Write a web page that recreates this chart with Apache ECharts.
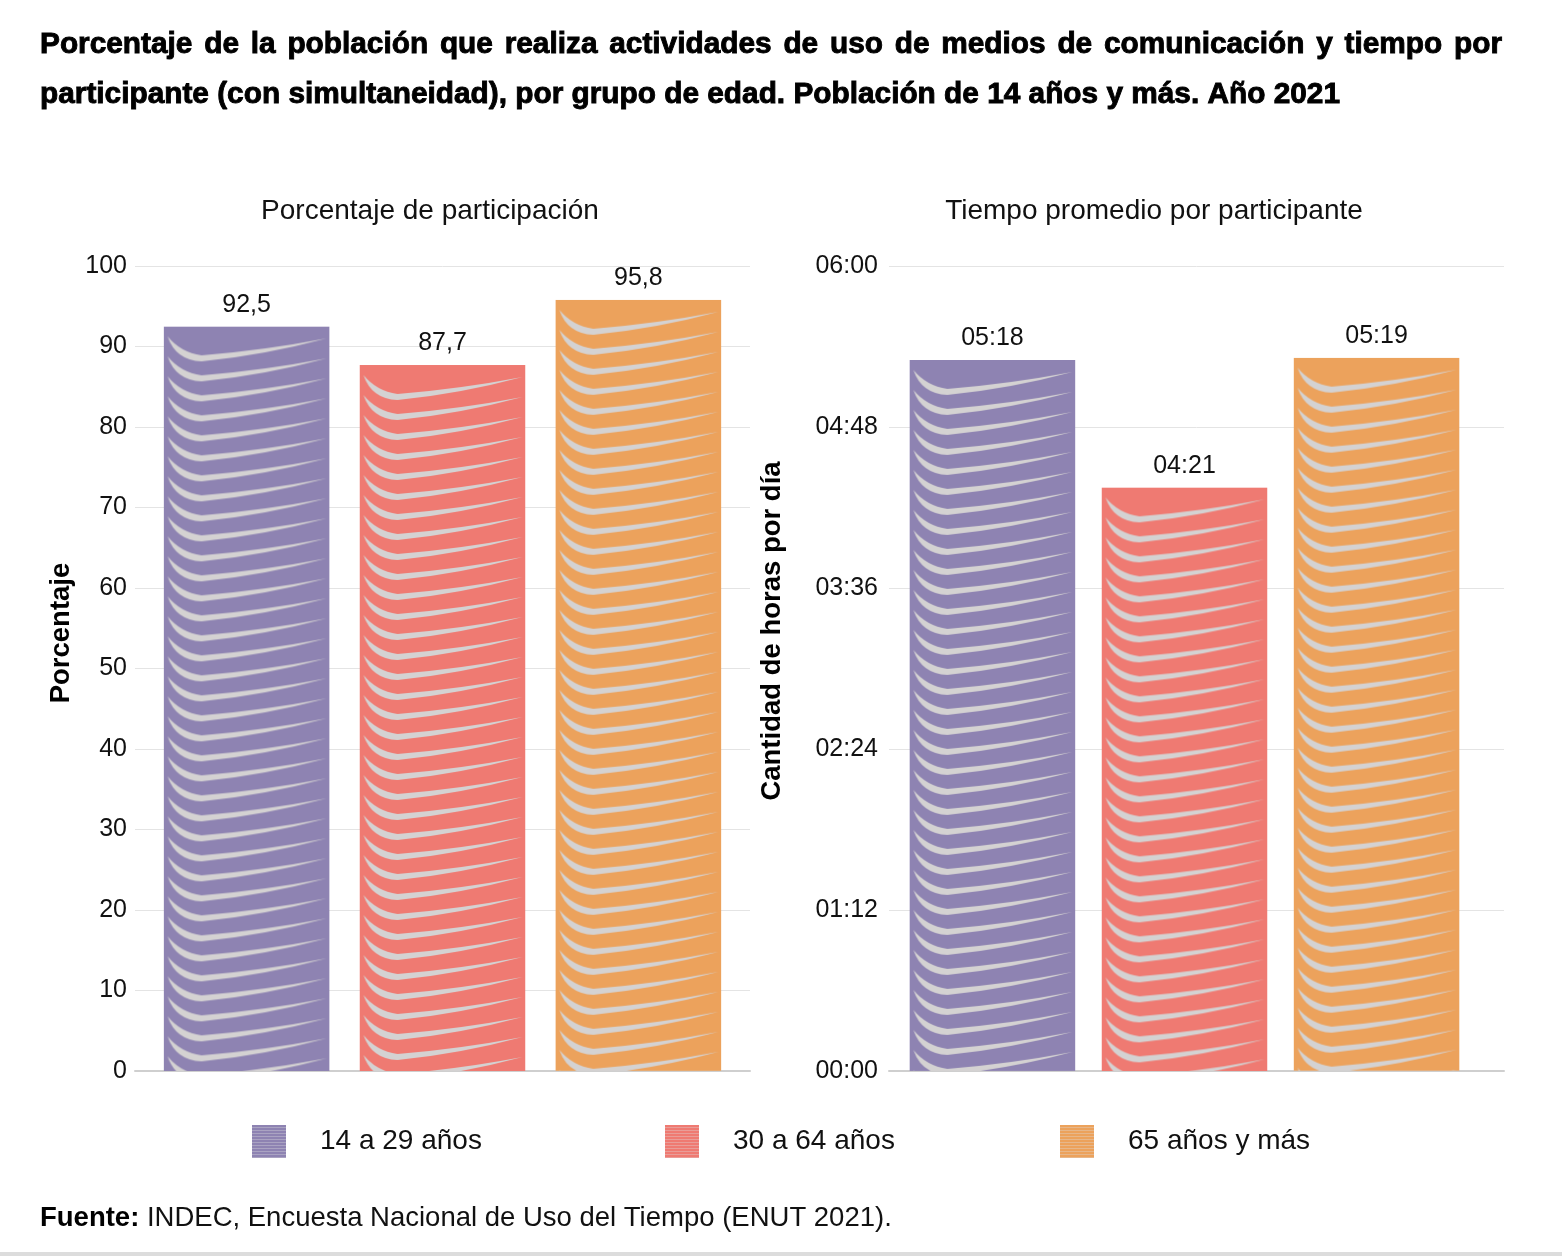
<!DOCTYPE html>
<html><head><meta charset="utf-8">
<script src="https://cdn.jsdelivr.net/npm/echarts@6.0.0/dist/echarts.min.js"></script>
<style>html,body{margin:0;padding:0;background:#fff}#c{width:1562px;height:1256px}</style>
</head><body><div id="c"></div>
<script>
// ---------- data ----------
const groups = ['14 a 29 años', '30 a 64 años', '65 años y más'];
const pctValues = [92.5, 87.7, 95.8];
const timeValues = ['05:18', '04:21', '05:19'];        // hh:mm per participant
const pctAxis = { min: 0, max: 100, interval: 10 };
const timeAxisTicks = ['00:00', '01:12', '02:24', '03:36', '04:48', '06:00'];
const titleLine1 = 'Porcentaje de la población que realiza actividades de uso de medios de comunicación y tiempo por';
const titleLine2 = 'participante (con simultaneidad), por grupo de edad. Población de 14 años y más. Año 2021';
const subtitleLeft = 'Porcentaje de participación';
const subtitleRight = 'Tiempo promedio por participante';
const yNameLeft = 'Porcentaje';
const yNameRight = 'Cantidad de horas por día';
const sourceBold = 'Fuente:';
const sourceText = ' INDEC, Encuesta Nacional de Uso del Tiempo (ENUT 2021).';

// ---------- helpers ----------
const colors = ['#8e83b2', '#ef7a72', '#eca25c'];
const swooshColor = '#d4d2d2';
const toMin = s => { const [h, m] = s.split(':').map(Number); return h * 60 + m; };
const toHHMM = v => { const h = Math.floor(v / 60), m = Math.round(v % 60); return String(h).padStart(2, '0') + ':' + String(m).padStart(2, '0'); };
const timeMinutes = timeValues.map(toMin);
const timeMax = toMin(timeAxisTicks[timeAxisTicks.length - 1]);
const timeInterval = toMin(timeAxisTicks[1]) - toMin(timeAxisTicks[0]);

// full-bar fill image: swooshes every 20px starting from the bar top
function makeBarFill(color, w, h) {
  const c = document.createElement('canvas');
  c.width = Math.max(4, Math.round(w)); c.height = Math.max(4, Math.round(h));
  const g = c.getContext('2d');
  g.fillStyle = color; g.fillRect(0, 0, c.width, c.height);
  g.fillStyle = swooshColor;
  const W = c.width;
  for (let y0 = 10; y0 < c.height; y0 += 20) {
    g.beginPath();
    g.moveTo(4, y0);
    g.quadraticCurveTo(17, y0 + 16, 38, y0 + 19);
    g.quadraticCurveTo(100, y0 + 14, W - 3, y0 + 2);
    g.quadraticCurveTo(100, y0 + 19, 38, y0 + 25);
    g.quadraticCurveTo(12, y0 + 24, 4, y0);
    g.fill();
  }
  return c;
}
function stripePattern(color) {
  const c = document.createElement('canvas'); c.width = 4; c.height = 3;
  const g = c.getContext('2d');
  g.fillStyle = color; g.fillRect(0, 0, 4, 3);
  g.globalAlpha = 0.35; g.fillStyle = '#e0e0e0'; g.fillRect(0, 2, 4, 1);
  return c;
}

const FONT = '"Liberation Sans", Arial, Helvetica, sans-serif';
const TFONT = 'bold 29px "Liberation Sans", Arial, sans-serif';

// condensed, justified title
const graphics = [];
const mctx = document.createElement('canvas').getContext('2d');
mctx.font = TFONT;
const tScale = 1300 / mctx.measureText(titleLine2).width;
(function () {
  const words = titleLine1.split(' ');
  const widths = words.map(w => mctx.measureText(w).width * tScale);
  const total = widths.reduce((a, b) => a + b, 0);
  const gap = (1462 - total) / (words.length - 1);
  let x = 40;
  words.forEach((w, i) => {
    graphics.push({ type: 'text', x: x, y: 45, scaleX: tScale,
      style: { text: w, font: TFONT, fill: '#000', stroke: '#000', lineWidth: 0.9, verticalAlign: 'middle' } });
    x += widths[i] + gap;
  });
})();
graphics.push({ type: 'text', x: 40, y: 95, scaleX: tScale,
  style: { text: titleLine2, font: TFONT, fill: '#000', stroke: '#000', lineWidth: 0.9, verticalAlign: 'middle' } });
graphics.push({ type: 'text', x: 430, y: 211, style: { text: subtitleLeft, font: '28px ' + FONT, fill: '#111', align: 'center', verticalAlign: 'middle' } });
graphics.push({ type: 'text', x: 1154, y: 211, style: { text: subtitleRight, font: '28px ' + FONT, fill: '#111', align: 'center', verticalAlign: 'middle' } });
graphics.push({ type: 'text', x: 61, y: 633, rotation: Math.PI / 2, style: { text: yNameLeft, font: 'bold 27.5px ' + FONT, fill: '#000', align: 'center', verticalAlign: 'middle' } });
graphics.push({ type: 'text', x: 772, y: 631, rotation: Math.PI / 2, style: { text: yNameRight, font: 'bold 27.5px ' + FONT, fill: '#000', align: 'center', verticalAlign: 'middle' } });
graphics.push({ type: 'text', x: 40, y: 1218, style: { text: '{b|' + sourceBold + '}{n|' + sourceText + '}', verticalAlign: 'middle',
  rich: { b: { font: 'bold 27.5px ' + FONT, fill: '#000' }, n: { font: '27.5px ' + FONT, fill: '#111' } } } });
graphics.push({ type: 'rect', shape: { x: 0, y: 1252, width: 1562, height: 4 }, style: { fill: '#dcdcdc' } });

const tickLabel = { fontSize: 25, color: '#111', fontFamily: FONT };
const option = {
  animation: false,
  backgroundColor: '#fff',
  grid: [
    { left: 135, right: 812, top: 266, bottom: 185 },
    { left: 889, right: 58, top: 266, bottom: 185 },
    { left: 877, right: 70, top: 266, bottom: 185 }
  ],
  xAxis: [0, 1, 2].map(i => ({
    type: 'category', gridIndex: i, data: [''], show: i !== 2,
    axisTick: { show: false }, axisLabel: { show: false },
    axisLine: { show: i !== 2, lineStyle: { color: '#cfcfcf', width: 2 } }
  })),
  yAxis: [
    { type: 'value', gridIndex: 0, min: pctAxis.min, max: pctAxis.max, interval: pctAxis.interval,
      axisLine: { show: false }, axisTick: { show: false },
      axisLabel: Object.assign({ margin: 8 }, tickLabel),
      splitLine: { lineStyle: { color: '#e4e4e4', width: 1 } } },
    { type: 'value', gridIndex: 1, min: 0, max: timeMax, interval: timeInterval,
      axisLine: { show: false }, axisTick: { show: false },
      axisLabel: Object.assign({ margin: 11, formatter: v => toHHMM(v) }, tickLabel),
      splitLine: { lineStyle: { color: '#e4e4e4', width: 1 } } },
    { type: 'value', gridIndex: 2, min: 0, max: timeMax, show: false, splitLine: { show: false } }
  ],
  legend: groups.map((g, i) => ({
    left: [252, 665, 1060][i], top: 1125, padding: 0, itemWidth: 34, itemHeight: 33, selectedMode: false, icon: 'rect',
    data: [{ name: g, itemStyle: { color: { image: stripePattern(colors[i]), repeat: 'repeat' } } }],
    textStyle: { fontSize: 28, color: '#111', fontFamily: FONT, padding: [0, 0, 0, 29] }
  })),
  graphic: graphics,
  series: [
    ...groups.map((g, i) => ({
      type: 'bar', name: g, xAxisIndex: 0, yAxisIndex: 0, data: [pctValues[i]],
      barWidth: 166, barGap: '18%', itemStyle: { color: colors[i] },
      emphasis: { disabled: true },
      label: { show: true, position: 'top', distance: 9, fontSize: 25, color: '#111', fontFamily: FONT,
        formatter: p => p.value.toFixed(1).replace('.', ',') }
    })),
    ...groups.map((g, i) => ({
      type: 'bar', name: g, xAxisIndex: 2, yAxisIndex: 2, data: [timeMinutes[i]],
      barWidth: 166, barGap: '15.7%', itemStyle: { color: colors[i] },
      emphasis: { disabled: true },
      label: { show: true, position: 'top', distance: 9, fontSize: 25, color: '#111', fontFamily: FONT,
        formatter: p => toHHMM(p.value) }
    }))
  ]
};

const chart = echarts.init(document.getElementById('c'), null, { renderer: 'canvas' });
chart.setOption(option);
// second pass: fill each bar with the swoosh image anchored at its computed layout
try {
  const model = chart.getModel();
  const upd = option.series.map((s, idx) => {
    const lay = model.getSeriesByIndex(idx).getData().getItemLayout(0);
    const top = Math.min(lay.y, lay.y + lay.height);
    const left = Math.min(lay.x, lay.x + lay.width);
    const ci = idx % 3;
    return { itemStyle: { color: { image: makeBarFill(colors[ci], Math.abs(lay.width), Math.abs(lay.height)), repeat: 'no-repeat', x: left, y: top } } };
  });
  chart.setOption({ series: upd });
} catch (e) { console.error(e); }
</script>
</body></html>
